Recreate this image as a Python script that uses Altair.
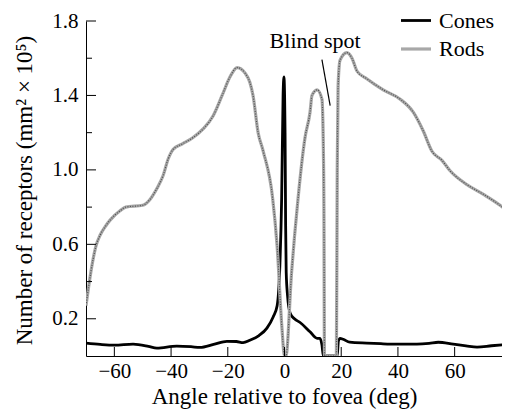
import altair as alt
import pandas as pd

# Rods density (angle deg, density in mm^-2 x 10^5)
rods_x = [-70, -69, -67.5, -66.5, -65, -63, -61.5, -58, -56, -50, -47.5, -45, -42.8, -41,
          -39.3, -36, -32.6, -28.7, -25.2, -22, -19.2, -16.7, -13.9, -12.2, -11.1, -9.3,
          -7.5, -4.2, -2.6, -0.9, 0, 0.5, 2.5, 4.8, 7.2, 9, 9.7, 11.5, 13.2, 13.6, 13.9,
          14.1, 18.3, 18.6, 18.9, 19.6, 22, 23.8, 25.6, 29, 34.8, 40.8, 45.4, 48.9, 52,
          55.6, 58.4, 64.4, 70, 76, 80]
rods_y = [0.27, 0.38, 0.52, 0.59, 0.65, 0.70, 0.73, 0.78, 0.80, 0.81, 0.84, 0.90, 0.97, 1.06,
          1.11, 1.14, 1.17, 1.22, 1.29, 1.40, 1.50, 1.55, 1.52, 1.47, 1.40, 1.20,
          1.10, 0.85, 0.59, 0.15, 0.0, 0.0, 0.45, 0.85, 1.17, 1.31, 1.40, 1.43, 1.38, 1.21, 0.80,
          0.0, 0.0, 1.0, 1.45, 1.59, 1.63, 1.60, 1.53, 1.49, 1.43, 1.38, 1.31, 1.21, 1.10,
          1.05, 0.995, 0.92, 0.87, 0.81, 0.76]

# Cones density
cones_x = [-70, -65, -60, -53.4, -48, -45, -38, -33, -29.8, -25, -20.3, -17, -14.6, -12.2,
           -9, -6.2, -4, -2.6, -1.6, -1.0, -0.5, -0.2, 0.2, 0.4, 0.6, 1.1, 2.0, 3.5, 5.5, 9,
           11.5, 12.5, 13.2, 13.7, 18.6, 19.0, 19.6, 20.7, 23, 29, 34, 39.7, 46.7, 51, 54.2,
           59.5, 64, 67.9, 73, 80]
cones_y = [0.069, 0.062, 0.058, 0.064, 0.052, 0.042, 0.053, 0.050, 0.046, 0.062, 0.079, 0.078,
           0.072, 0.085, 0.11, 0.15, 0.21, 0.27, 0.50, 0.85, 1.40, 1.50, 1.20, 0.70, 0.45, 0.32,
           0.23, 0.20, 0.18, 0.13, 0.095, 0.095, 0.06, 0.0, 0.0, 0.08, 0.095, 0.09, 0.074,
           0.069, 0.066, 0.064, 0.064, 0.068, 0.074, 0.064, 0.055, 0.048, 0.055, 0.064]

x_ticks = [-60, -40, -20, 0, 20, 40, 60]
y_major = [0.2, 0.6, 1.0, 1.4, 1.8]
y_minor = [0.4, 0.8, 1.2, 1.6]

annot_text = ["Blind spot"]
annot_tx = [10.8]
annot_ty = [1.655]
pointer_x = [13.2, 16.1]
pointer_y = [1.593, 1.345]

FONT = "Liberation Serif"
W, H = 416, 335

df = pd.concat([
    pd.DataFrame({"angle": cones_x, "density": cones_y, "type": "Cones"}),
    pd.DataFrame({"angle": rods_x, "density": rods_y, "type": "Rods"}),
])
rods_df = pd.DataFrame({"angle": rods_x, "density": rods_y})

xscale = alt.Scale(domain=[-70, 76.7], nice=False, zero=False)
yscale = alt.Scale(domain=[0, 1.8], nice=False, zero=False)

lines = alt.Chart(df).mark_line(interpolate="monotone", strokeCap="butt", clip=True).encode(
    x=alt.X("angle:Q", scale=xscale,
            axis=alt.Axis(title="Angle relative to fovea (deg)", values=x_ticks,
                          ticks=False, tickSize=0, grid=False, labelPadding=4,
                          labelFont=FONT, titleFont=FONT,
                          labelFontSize=21, titleFontSize=23, domainColor="black",
                          labelColor="black", titleColor="black", titleFontWeight="normal",
                          titleX=198, titleY=47, titleBaseline="alphabetic")),
    y=alt.Y("density:Q", scale=yscale,
            axis=alt.Axis(title="Number of receptors (mm² × 10⁵)", values=y_major,
                          format=".1f", ticks=False, tickSize=0, grid=False, labelPadding=8,
                          labelFont=FONT, titleFont=FONT,
                          labelFontSize=21, titleFontSize=23, domainColor="black",
                          labelColor="black", titleColor="black", titleFontWeight="normal",
                          titleX=-62, titleY=169, titleBaseline="middle")),
    color=alt.Color("type:N",
                    scale=alt.Scale(domain=["Cones", "Rods"], range=["black", "#a8a8a8"]),
                    legend=alt.Legend(title=None, orient="none", legendX=313, legendY=-17,
                                      symbolType="stroke", symbolSize=900,
                                      symbolStrokeWidth=3, labelFontSize=22, labelFont=FONT,
                                      labelOffset=6, rowPadding=-2, labelColor="black",
                                      labelLimit=200)),
    strokeWidth=alt.StrokeWidth("type:N",
                                scale=alt.Scale(domain=["Cones", "Rods"], range=[2.8, 3.2]),
                                legend=None),
)

rods_tex = alt.Chart(rods_df).mark_line(interpolate="monotone", color="#505050", clip=True,
                                        strokeWidth=1.2, strokeDash=[1, 1.5]).encode(
    x=alt.X("angle:Q", scale=xscale),
    y=alt.Y("density:Q", scale=yscale),
)

ytick_major = alt.Chart(pd.DataFrame({"v": y_major})).mark_rule(color="black", strokeWidth=1).encode(
    y=alt.Y("v:Q", scale=yscale), x=alt.value(0), x2=alt.value(10))
ytick_minor = alt.Chart(pd.DataFrame({"v": y_minor})).mark_rule(color="black", strokeWidth=1).encode(
    y=alt.Y("v:Q", scale=yscale), x=alt.value(0), x2=alt.value(6))
xtick = alt.Chart(pd.DataFrame({"v": x_ticks})).mark_rule(color="black", strokeWidth=1).encode(
    x=alt.X("v:Q", scale=xscale), y=alt.value(H), y2=alt.value(H - 9))

label = alt.Chart(pd.DataFrame({"t": annot_text, "x": annot_tx, "y": annot_ty})).mark_text(
    font=FONT, fontSize=22, color="black", align="center", baseline="alphabetic").encode(
    x=alt.X("x:Q", scale=xscale), y=alt.Y("y:Q", scale=yscale), text="t:N")
pointer = alt.Chart(pd.DataFrame({"x": pointer_x, "y": pointer_y})).mark_line(
    color="black", strokeWidth=1.2).encode(
    x=alt.X("x:Q", scale=xscale), y=alt.Y("y:Q", scale=yscale))

chart = alt.layer(lines, rods_tex, xtick, ytick_major, ytick_minor, label, pointer).properties(
    width=W, height=H,
    autosize=alt.AutoSizeParams(type="none"),
    padding={"left": 78, "top": 13, "right": 0, "bottom": 401 - 13 - H},
).configure(font=FONT).configure_view(stroke=None).configure_axis(domainWidth=1)

chart.save("out.html", embed_options={"renderer": "svg", "actions": False})
